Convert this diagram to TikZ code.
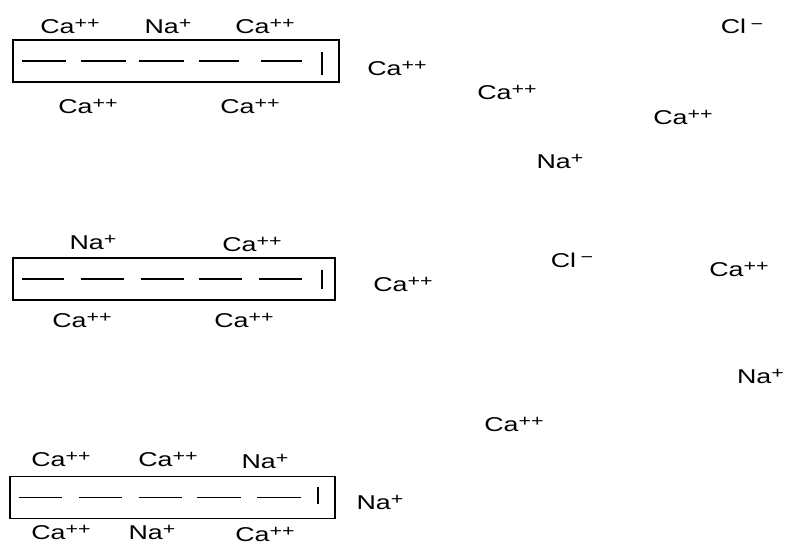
\documentclass[tikz,border=0pt]{standalone}
\usepackage{fontspec}
\usepackage{graphicx}
\setmainfont{Liberation Sans}
\newcommand{\spx}[1]{\raisebox{5pt}{\fontsize{16}{16}\selectfont #1}}
\newcommand{\wide}[1]{\scalebox{1.34}[1]{#1}}
\newcommand{\caion}{\wide{Ca\spx{++}}}
\newcommand{\naion}{\wide{Na\spx{+}}}
\newcommand{\clion}{\wide{Cl\,\spx{−}}}
\begin{document}
\begin{tikzpicture}[x=1pt,y=-1pt,
  lab/.style={inner sep=0pt,anchor=base,font=\fontsize{20}{22}\selectfont},
  plate/.style={draw,line width=1.3pt,minimum width=#1,minimum height=42pt,inner sep=0pt},
  dsh/.style={line width=1.5pt},
  bar/.style={line width=2pt}]
\useasboundingbox (0,0) rectangle (785,546);
% ---------- plate 1
\node[plate=326pt] (p1) at (176,61) {};
\foreach \a/\b in {23/67,82/127,140/185,200/240,262/303}
  \draw[dsh] ([xshift=\a pt-13pt]p1.west) -- ([xshift=\b pt-13pt]p1.west);
\coordinate (b1t) at (322,52); \coordinate (b1b) at (322,75);
\draw[bar] (b1t) -- (b1b);
\node[lab] (a1) at (70,33) {\caion};
\node[lab] (a2) at (168,33) {\naion};
\node[lab] (a3) at (265,33) {\caion};
\node[lab] (a4) at (88,113) {\caion};
\node[lab] (a5) at (250,113) {\caion};
\node[lab] (a6) at (397,75) {\caion};
% ---------- plate 2
\node[plate=322pt] (p2) at (174,279) {};
\foreach \a/\b in {23/65,82/125,142/185,200/243,260/303}
  \draw[dsh] ([xshift=\a pt-13pt]p2.west) -- ([xshift=\b pt-13pt]p2.west);
\coordinate (b2t) at (322,270); \coordinate (b2b) at (322,289);
\draw[bar] (b2t) -- (b2b);
\node[lab] (c1) at (93,249) {\naion};
\node[lab] (c2) at (252,251) {\caion};
\node[lab] (c3) at (82,327) {\caion};
\node[lab] (c4) at (244,327) {\caion};
\node[lab] (c5) at (403,291) {\caion};
% ---------- plate 3
\node[plate=325pt] (p3) at (172.5,497.5) {};
\foreach \a/\b in {20/63,80/123,140/183,198/242,258/302}
  \draw[dsh] ([xshift=\a pt-10pt]p3.west) -- ([xshift=\b pt-10pt]p3.west);
\coordinate (b3t) at (318,487); \coordinate (b3b) at (318,504);
\draw[bar] (b3t) -- (b3b);
\node[lab] (e1) at (61,466) {\caion};
\node[lab] (e2) at (168,466) {\caion};
\node[lab] (e3) at (265,468) {\naion};
\node[lab] (e4) at (61,539) {\caion};
\node[lab] (e5) at (152,539) {\naion};
\node[lab] (e6) at (265,541) {\caion};
\node[lab] (e7) at (380,509) {\naion};
% ---------- free ions
\node[lab] (f1) at (742,34) {\clion};
\node[lab] (f2) at (507,99) {\caion};
\node[lab] (f3) at (683,124) {\caion};
\node[lab] (f4) at (560,168) {\naion};
\node[lab] (f5) at (572,267) {\clion};
\node[lab] (f6) at (739,276) {\caion};
\node[lab,anchor=base east] (f7) at (784,383) {\naion};
\node[lab] (f8) at (514,431) {\caion};
\end{tikzpicture}
\end{document}
